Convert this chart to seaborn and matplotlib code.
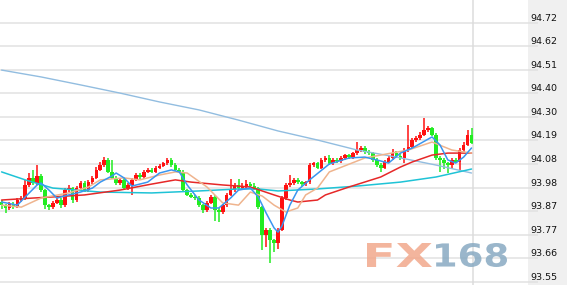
import numpy as np
import pandas as pd
import matplotlib
matplotlib.use("Agg")
import matplotlib.pyplot as plt
import seaborn as sns
from matplotlib.textpath import TextPath
from matplotlib.patches import PathPatch
from matplotlib.font_manager import FontProperties
from matplotlib.transforms import Affine2D, IdentityTransform

# ---------------- data ----------------
opens = [93.910, 93.896, 93.883, 93.901, 93.892, 93.919, 93.928, 93.987, 94.019, 93.996,
         94.028, 93.964, 93.896, 93.887, 93.906, 93.919, 93.896, 93.964, 93.973, 93.919,
         93.973, 93.996, 93.964, 94.000, 94.019, 94.055, 94.077, 94.100, 94.046, 94.019,
         93.996, 94.010, 93.973, 93.987, 94.010, 94.032, 94.023, 94.046, 94.055, 94.046,
         94.064, 94.073, 94.086, 94.100, 94.077, 94.055, 94.046, 93.964, 93.942, 93.933,
         93.928, 93.896, 93.874, 93.906, 93.933, 93.874, 93.865, 93.896, 93.942, 93.964,
         93.987, 93.973, 93.982, 93.991, 93.982, 93.973, 93.887, 93.761, 93.784, 93.738,
         93.725, 93.784, 93.928, 93.987, 93.996, 94.010, 94.000, 93.991, 94.000, 94.077,
         94.086, 94.064, 94.100, 94.109, 94.086, 94.100, 94.095, 94.109, 94.122, 94.113,
         94.131, 94.145, 94.154, 94.136, 94.131, 94.100, 94.077, 94.064, 94.091, 94.109,
         94.131, 94.118, 94.109, 94.145, 94.158, 94.190, 94.199, 94.213, 94.235, 94.244,
         94.213, 94.109, 94.100, 94.086, 94.077, 94.100, 94.091, 94.145, 94.168, 94.213]

closes = [93.896, 93.883, 93.901, 93.892, 93.919, 93.928, 93.987, 94.019, 93.996, 94.028,
          93.964, 93.896, 93.887, 93.906, 93.919, 93.896, 93.964, 93.973, 93.919, 93.973,
          93.996, 93.964, 94.000, 94.019, 94.055, 94.077, 94.100, 94.046, 94.019, 93.996,
          94.010, 93.973, 93.987, 94.010, 94.032, 94.023, 94.046, 94.055, 94.046, 94.064,
          94.073, 94.086, 94.100, 94.077, 94.055, 94.046, 93.964, 93.942, 93.933, 93.928,
          93.896, 93.874, 93.906, 93.933, 93.874, 93.865, 93.896, 93.942, 93.964, 93.987,
          93.973, 93.982, 93.991, 93.982, 93.973, 93.887, 93.761, 93.784, 93.738, 93.725,
          93.784, 93.928, 93.987, 93.996, 94.010, 94.000, 93.991, 94.000, 94.077, 94.086,
          94.064, 94.100, 94.109, 94.086, 94.100, 94.095, 94.109, 94.122, 94.113, 94.131,
          94.145, 94.154, 94.136, 94.131, 94.100, 94.077, 94.064, 94.091, 94.109, 94.131,
          94.118, 94.109, 94.145, 94.158, 94.190, 94.199, 94.213, 94.235, 94.244, 94.213,
          94.109, 94.100, 94.086, 94.077, 94.100, 94.091, 94.145, 94.168, 94.213, 94.177]

highs = [93.917, 93.903, 93.908, 93.908, 93.926, 93.935, 94.010, 94.040, 94.055, 94.077,
         94.035, 93.971, 93.903, 93.913, 93.926, 93.926, 93.975, 93.985, 93.980, 93.982,
         94.005, 94.003, 94.010, 94.028, 94.070, 94.090, 94.113, 94.107, 94.100, 94.026,
         94.017, 94.017, 93.994, 94.017, 94.039, 94.039, 94.053, 94.062, 94.062, 94.071,
         94.080, 94.093, 94.110, 94.107, 94.084, 94.062, 94.053, 93.971, 93.949, 93.940,
         93.935, 93.903, 93.913, 93.940, 93.940, 93.881, 93.903, 93.949, 94.015, 93.995,
         94.015, 93.995, 94.010, 94.000, 93.995, 93.980, 93.894, 93.792, 93.792, 93.745,
         93.792, 93.935, 93.995, 94.032, 94.020, 94.017, 94.007, 94.007, 94.084, 94.093,
         94.093, 94.110, 94.120, 94.122, 94.107, 94.107, 94.116, 94.129, 94.129, 94.138,
         94.181, 94.163, 94.161, 94.145, 94.138, 94.107, 94.084, 94.098, 94.116, 94.150,
         94.140, 94.130, 94.155, 94.258, 94.200, 94.210, 94.225, 94.290, 94.255, 94.251,
         94.220, 94.116, 94.107, 94.093, 94.107, 94.107, 94.155, 94.180, 94.235, 94.244]

lows = [93.880, 93.862, 93.876, 93.880, 93.885, 93.912, 93.921, 93.980, 93.989, 93.989,
        93.957, 93.880, 93.872, 93.880, 93.899, 93.885, 93.889, 93.957, 93.905, 93.912,
        93.966, 93.957, 93.957, 93.993, 94.012, 94.048, 94.070, 94.039, 94.012, 93.989,
        93.989, 93.966, 93.966, 93.942, 94.003, 94.016, 94.016, 94.039, 94.039, 94.039,
        94.057, 94.066, 94.079, 94.070, 94.048, 94.039, 93.957, 93.935, 93.926, 93.921,
        93.889, 93.860, 93.867, 93.899, 93.825, 93.820, 93.858, 93.889, 93.935, 93.957,
        93.966, 93.966, 93.975, 93.975, 93.966, 93.880, 93.693, 93.707, 93.634, 93.684,
        93.700, 93.777, 93.921, 93.980, 93.989, 93.993, 93.984, 93.984, 93.993, 94.070,
        94.057, 94.057, 94.093, 94.079, 94.079, 94.088, 94.088, 94.102, 94.106, 94.106,
        94.124, 94.138, 94.129, 94.124, 94.093, 94.070, 94.046, 94.057, 94.084, 94.102,
        94.111, 94.102, 94.086, 94.138, 94.151, 94.183, 94.192, 94.206, 94.228, 94.206,
        94.102, 94.046, 94.060, 94.041, 94.060, 94.084, 94.055, 94.138, 94.161, 94.170]

# moving-average lines: candle index -> value
ma5_x = [0, 4, 6, 9, 10, 12, 14, 17, 20, 23, 25, 28, 29, 31, 33, 37, 40, 43, 45, 47,
         50, 53, 55, 58, 60, 63, 65, 67, 69, 70, 71, 73, 75, 78, 83, 88, 92, 95, 98, 101,
         104, 109, 111, 113, 115, 117, 119]
ma5_y = [93.910, 93.896, 93.933, 93.987, 93.996, 93.964, 93.928, 93.942, 93.955, 93.973,
         94.000, 94.028, 94.041, 94.019, 93.982, 94.000, 94.041, 94.055, 94.046, 93.987,
         93.919, 93.883, 93.883, 93.928, 93.964, 93.973, 93.933, 93.860, 93.793, 93.774,
         93.802, 93.896, 93.964, 94.010, 94.082, 94.109, 94.113, 94.100, 94.086, 94.131,
         94.154, 94.204, 94.168, 94.100, 94.086, 94.113, 94.154]

ma10_x = [0, 5, 10, 17, 22, 25, 31, 35, 40, 44, 47, 52, 56, 60, 63, 66, 69, 72, 75, 77,
          80, 83, 92, 103, 109, 114, 119]
ma10_y = [93.896, 93.887, 93.928, 93.951, 93.978, 94.010, 94.019, 94.010, 94.032, 94.046,
          94.041, 93.978, 93.906, 93.896, 93.955, 93.937, 93.896, 93.865, 93.883, 93.942,
          93.973, 94.046, 94.109, 94.145, 94.181, 94.145, 94.131]

ma20_x = [0, 8, 13, 21, 30, 38, 44, 48, 56, 63, 69, 73, 75, 80, 82, 88, 96, 101, 104,
          109, 113, 119]
ma20_y = [93.919, 93.928, 93.933, 93.942, 93.964, 93.991, 94.010, 94.000, 93.987, 93.978,
          93.942, 93.919, 93.910, 93.919, 93.942, 93.978, 94.023, 94.068, 94.091, 94.122,
          94.131, 94.131]

ma60_x = [0, 6, 13, 25, 38, 50, 60, 65, 70, 80, 90, 101, 110, 119]
ma60_y = [94.046, 94.010, 93.973, 93.955, 93.951, 93.960, 93.969, 93.969, 93.960, 93.969,
          93.982, 94.000, 94.023, 94.059]

ma120_x = [0, 10, 20, 30, 40, 50, 60, 70, 80, 90, 100, 110, 119]
ma120_y = [94.506, 94.475, 94.439, 94.402, 94.362, 94.326, 94.280, 94.231, 94.190, 94.145,
           94.113, 94.077, 94.041]

tick_labels = ["94.72", "94.62", "94.51", "94.40", "94.30", "94.19",
               "94.08", "93.98", "93.87", "93.77", "93.66", "93.55"]

# ---------------- figure ----------------
sns.set_theme(style="white")
plt.rcParams['font.family'] = ['DejaVu Sans']

W, H = 567, 285
fig = plt.figure(figsize=(W / 100, H / 100), dpi=100)
fig.patch.set_facecolor('#f0f0f0')
ax = fig.add_axes([0, 0, 528 / W, 1])
ax.set_facecolor('white')

df = pd.DataFrame({'open': opens, 'close': closes, 'high': highs, 'low': lows})
df['idx'] = np.arange(len(df))
df['up'] = df['close'] >= df['open']

RED = '#ff1010'
GREEN = '#22ec22'
colors = np.where(df['up'], RED, GREEN)

ax.vlines(df['idx'], df['low'], df['high'], colors=colors, lw=1.1, zorder=3)
body = (df['close'] - df['open']).where((df['close'] - df['open']).abs() > 0.003,
                                          0.003)
ax.bar(df['idx'], body, bottom=df['open'], width=0.92, color=colors,
       linewidth=0, zorder=4)

line_specs = [
    (ma120_x, ma120_y, '#92bde0', 1.0),
    (ma60_x, ma60_y, '#1fc3d6', 1.1),
    (ma20_x, ma20_y, '#e62828', 1.1),
    (ma10_x, ma10_y, '#efb48e', 1.1),
    (ma5_x, ma5_y, '#3a96f0', 1.1),
]
for xs, ys, c, lw in line_specs:
    sns.lineplot(x=xs, y=ys, ax=ax, color=c, lw=lw, zorder=5, legend=False,
                 estimator=None, sort=False)

# vertical marker line at the last candle
ax.axvline(119.35, color='#dcdcdc', lw=1.1, zorder=1)

ax.set_xlim(-0.4, 133.3)
ax.set_ylim(93.5352, 94.8225)

ticks = np.linspace(94.72, 93.55, len(tick_labels))
ax.set_yticks(ticks)
ax.set_yticklabels(tick_labels, va='bottom')
ax.yaxis.tick_right()
ax.tick_params(axis='y', which='both', right=True, left=False, length=7.2,
               width=1.4, color='#e4e4e4', pad=-5.6, labelsize=6.8,
               labelcolor='#111111')
ax.set_xticks([])
ax.grid(axis='y', color='#e8e8e8', lw=1.4, zorder=0)
ax.set_axisbelow(True)
for s in ax.spines.values():
    s.set_visible(False)
ax.set_xlabel('')
ax.set_ylabel('')

# watermark FX168
fp = FontProperties(family='DejaVu Sans', weight='bold')


def put_word(txt, x0, x1, ytop, ybot, color):
    tp = TextPath((0, 0), txt, size=100, prop=fp)
    ext = tp.get_extents()
    sx = (x1 - x0) / ext.width
    sy = (ybot - ytop) / ext.height
    tr = Affine2D().translate(-ext.x0, -ext.y0).scale(sx, sy).translate(x0, H - ybot)
    patch = PathPatch(tr.transform_path(tp), facecolor=color, edgecolor='none',
                      transform=IdentityTransform(), alpha=0.85, zorder=6)
    fig.add_artist(patch)


put_word("FX", 367, 432, 243, 267, '#f2a88c')
put_word("168", 436, 507, 243, 267, '#88aac2')

fig.savefig('out.png', dpi=100)
